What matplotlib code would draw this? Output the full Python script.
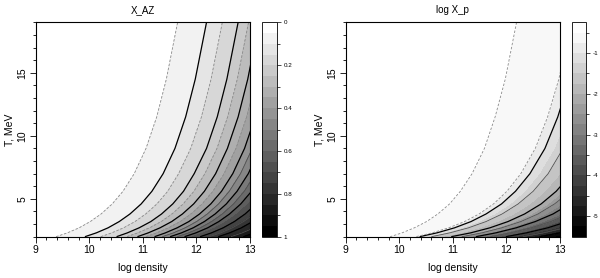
import numpy as np
import matplotlib
matplotlib.use('Agg')
import matplotlib.pyplot as plt
from matplotlib.ticker import MultipleLocator, FuncFormatter

plt.rcParams['font.family'] = ['Liberation Sans', 'DejaVu Sans']
plt.rcParams['axes.unicode_minus'] = False

# temperature rows (MeV) at which contour crossings were read
t_rows = [2, 2.3, 2.7, 3.2, 3.8, 4.6, 5.6, 7, 9, 11.5, 14.5, 19]

# X_AZ: log density where each level crosses each temperature row
xaz_levels = [0.01, 0.05, 0.1, 0.2, 0.3, 0.4, 0.5, 0.6, 0.7, 0.8, 0.9, 0.97]
xaz_dens = [
    [8.18, 8.39, 8.61, 8.83, 9.03, 9.23, 9.43, 9.64, 9.86, 10.07, 10.25, 10.46],
    [9.38, 9.59, 9.81, 10.02, 10.22, 10.43, 10.63, 10.84, 11.06, 11.26, 11.44, 11.65],
    [9.92, 10.13, 10.35, 10.56, 10.76, 10.97, 11.17, 11.38, 11.60, 11.80, 11.98, 12.19],
    [10.51, 10.71, 10.93, 11.15, 11.35, 11.56, 11.76, 11.96, 12.19, 12.39, 12.57, 12.78],
    [10.90, 11.10, 11.32, 11.54, 11.74, 11.95, 12.15, 12.36, 12.58, 12.78, 12.96, 13.17],
    [11.22, 11.42, 11.64, 11.86, 12.06, 12.27, 12.47, 12.68, 12.90, 13.10, 13.28, 13.49],
    [11.51, 11.72, 11.94, 12.15, 12.35, 12.56, 12.76, 12.97, 13.19, 13.39, 13.58, 13.78],
    [11.78, 11.99, 12.21, 12.42, 12.62, 12.83, 13.03, 13.24, 13.46, 13.66, 13.84, 14.05],
    [12.07, 12.28, 12.50, 12.71, 12.91, 13.12, 13.32, 13.53, 13.75, 13.95, 14.13, 14.34],
    [12.41, 12.62, 12.84, 13.05, 13.25, 13.46, 13.66, 13.87, 14.09, 14.29, 14.47, 14.68],
    [12.88, 13.09, 13.31, 13.52, 13.72, 13.93, 14.13, 14.34, 14.56, 14.76, 14.94, 15.15],
    [13.63, 13.84, 14.06, 14.27, 14.47, 14.68, 14.88, 15.09, 15.31, 15.51, 15.69, 15.90],
]

# log X_p: same kind of table (first row is the flat plateau on the far left)
xp_levels = [-0.47, -0.5, -0.75, -1.0, -1.5, -2.0, -2.5, -3.0, -3.5, -4.0, -4.5, -5.0, -5.5]
xp_dens = [
    [8.00, 8.00, 8.00, 8.00, 8.00, 8.00, 8.00, 8.00, 8.00, 8.00, 8.00, 8.00],
    [9.83, 10.05, 10.28, 10.51, 10.72, 10.94, 11.14, 11.36, 11.59, 11.79, 11.98, 12.19],
    [10.31, 10.61, 10.92, 11.22, 11.49, 11.76, 12.01, 12.27, 12.54, 12.77, 12.98, 13.21],
    [10.38, 10.70, 11.03, 11.34, 11.62, 11.91, 12.17, 12.44, 12.72, 12.96, 13.18, 13.41],
    [10.60, 10.94, 11.29, 11.62, 11.92, 12.22, 12.50, 12.78, 13.06, 13.31, 13.53, 13.77],
    [10.97, 11.33, 11.69, 12.03, 12.34, 12.65, 12.93, 13.22, 13.51, 13.77, 13.99, 14.23],
    [11.17, 11.54, 11.91, 12.27, 12.59, 12.90, 13.20, 13.49, 13.79, 14.05, 14.28, 14.52],
    [11.43, 11.80, 12.18, 12.54, 12.87, 13.19, 13.48, 13.78, 14.08, 14.35, 14.57, 14.82],
    [11.70, 12.07, 12.46, 12.83, 13.16, 13.48, 13.78, 14.08, 14.39, 14.65, 14.88, 15.13],
    [11.99, 12.37, 12.77, 13.14, 13.47, 13.80, 14.11, 14.41, 14.72, 14.99, 15.22, 15.47],
    [12.31, 12.69, 13.09, 13.46, 13.79, 14.12, 14.43, 14.73, 15.04, 15.31, 15.54, 15.79],
    [12.62, 13.00, 13.40, 13.77, 14.10, 14.43, 14.74, 15.04, 15.35, 15.62, 15.85, 16.10],
    [13.07, 13.45, 13.85, 14.22, 14.55, 14.88, 15.19, 15.49, 15.80, 16.07, 16.30, 16.55],
]


def mesh(dens, levels):
    X = np.array(dens)
    Y = np.tile(np.array(t_rows, dtype=float), (X.shape[0], 1))
    Z = np.repeat(np.array(levels, dtype=float)[:, None], X.shape[1], axis=1)
    return X, Y, Z


def style_axes(ax, title):
    ax.set_xlim(9, 13)
    ax.set_ylim(2, 19)
    ax.xaxis.set_major_locator(MultipleLocator(1))
    ax.xaxis.set_minor_locator(MultipleLocator(0.2))
    ax.yaxis.set_major_locator(MultipleLocator(5))
    ax.yaxis.set_minor_locator(MultipleLocator(1))
    ax.tick_params(which='both', direction='out', top=False, right=False, labelsize=7.5, width=0.6)
    ax.tick_params(which='major', length=4, pad=2)
    ax.tick_params(which='minor', length=2.5)
    for lbl in ax.get_yticklabels():
        lbl.set_rotation(90)
        lbl.set_va('center')
    for s in ax.spines.values():
        s.set_linewidth(0.8)
    ax.set_title(title, fontsize=7, pad=7)
    ax.set_xlabel('log density', fontsize=7.5, labelpad=6)
    ax.set_ylabel('T, MeV', fontsize=7.5, labelpad=2)


fig = plt.figure(figsize=(6, 2.78), dpi=100)
ax1 = fig.add_axes([0.0595, 0.1486, 0.357, 0.771])
cax1 = fig.add_axes([0.4367, 0.1486, 0.025, 0.771])
ax2 = fig.add_axes([0.5762, 0.1486, 0.357, 0.771])
cax2 = fig.add_axes([0.9538, 0.1486, 0.0228, 0.771])

# ---- left panel: X_AZ
X, Y, Z = mesh(xaz_dens, xaz_levels)
fill1 = np.round(np.arange(0, 1.0001, 0.05), 3)
cf1 = ax1.contourf(X, Y, Z, levels=fill1, cmap='gray_r', vmin=0.025, vmax=0.975)
line1 = fill1[1:-1]
cols, lss, lws = [], [], []
for i, lv in enumerate(line1):
    if i % 2 == 1:
        cols.append('black'); lss.append('solid'); lws.append(0.9)
    elif lv < 0.4:
        cols.append('#8a8a8a'); lss.append((0, (3, 2))); lws.append(0.6)
    else:
        cols.append('#505050'); lss.append('solid'); lws.append(0.6)
ax1.contour(X, Y, Z, levels=line1, colors=cols, linestyles=lss, linewidths=lws)
style_axes(ax1, 'X_AZ')

cb1 = fig.colorbar(cf1, cax=cax1)
cax1.invert_yaxis()
cb1.set_ticks([0, 0.2, 0.4, 0.6, 0.8, 1.0])
cb1.ax.yaxis.set_minor_locator(MultipleLocator(0.1))
cb1.ax.yaxis.set_major_formatter(FuncFormatter(lambda v, p: f'{v:g}'))
cb1.ax.tick_params(which='both', labelsize=4.5, width=0.5, pad=2)
cb1.ax.tick_params(which='major', length=3)
cb1.ax.tick_params(which='minor', length=2)
cb1.outline.set_linewidth(0.6)

# ---- right panel: log X_p
X, Y, Z = mesh(xp_dens, xp_levels)
fill2 = [-5.45] + list(np.round(np.arange(-5.25, -0.49, 0.25), 2)) + [-0.48]
cf2 = ax2.contourf(X, Y, Z, levels=fill2, cmap='gray', vmin=-5.35, vmax=-0.49)
line2 = sorted(xp_levels[1:-1])
cols, lss, lws = [], [], []
for lv in line2:
    if lv > -0.9:
        cols.append('#8a8a8a'); lss.append((0, (3, 2))); lws.append(0.6)
    elif float(lv).is_integer():
        cols.append('black'); lss.append('solid'); lws.append(0.9)
    else:
        cols.append('#505050'); lss.append('solid'); lws.append(0.6)
ax2.contour(X, Y, Z, levels=line2, colors=cols, linestyles=lss, linewidths=lws)
style_axes(ax2, 'log X_p')

cb2 = fig.colorbar(cf2, cax=cax2)
cb2.set_ticks([-1, -2, -3, -4, -5])
cb2.ax.yaxis.set_minor_locator(MultipleLocator(0.5))
cb2.ax.yaxis.set_major_formatter(FuncFormatter(lambda v, p: f'{v:g}'))
cb2.ax.tick_params(which='both', labelsize=4.5, width=0.5, pad=2)
cb2.ax.tick_params(which='major', length=3)
cb2.ax.tick_params(which='minor', length=2)
cb2.outline.set_linewidth(0.6)

fig.savefig('out.png', dpi=100)
